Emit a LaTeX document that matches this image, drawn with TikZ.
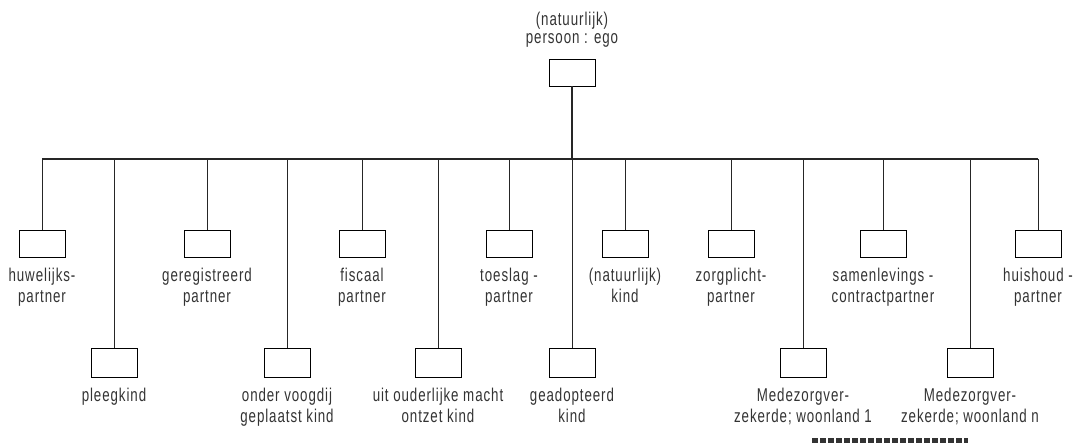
\documentclass[tikz,border=0pt]{standalone}
\usepackage{fontspec}
\setmainfont{Liberation Sans}[FakeStretch=0.72, LetterSpace=5]
\usepackage{tikz}
\usetikzlibrary{positioning}

\tikzset{
  persbox/.style={draw, line width=0.8pt, minimum width=46pt, minimum height=27pt, inner sep=0pt},
  laagbox/.style={persbox, minimum height=29pt},
  lbl/.style={font=\fontsize{18.5}{21}\selectfont, text=black!80, align=center, inner sep=0pt},
  tak/.style={line width=0.8pt, black!85},
}

\begin{document}
\begin{tikzpicture}[x=1pt, y=1pt]

\useasboundingbox (0,0) rectangle (1075,-445);

% Ego
\node[persbox] (ego) at (572,-72.5) {};
\node[lbl, font=\fontsize{18.5}{18}\selectfont, above=11pt of ego] (egolbl) {(natuurlijk)\\persoon : ego};

% Bus
\coordinate (bus) at (0,-159);

% Upper row
\node[persbox] (huwelijk) at (42,-243.5) {};
\node[persbox] (geregistreerd) at (207,-243.5) {};
\node[persbox] (fiscaal) at (362,-243.5) {};
\node[persbox] (toeslag) at (509,-243.5) {};
\node[persbox] (kind) at (625,-243.5) {};
\node[persbox] (zorgplicht) at (731,-243.5) {};
\node[persbox] (samenleving) at (883,-243.5) {};
\node[persbox] (huishoud) at (1038,-243.5) {};

% Lower row
\node[laagbox] (pleeg) at (114,-362.5) {};
\node[laagbox] (voogdij) at (287,-362.5) {};
\node[laagbox] (ontzet) at (438,-362.5) {};
\node[laagbox] (geadopteerd) at (572,-362.5) {};
\node[laagbox] (mede1) at (803,-362.5) {};
\node[laagbox] (meden) at (970,-362.5) {};

% Labels upper row
\node[lbl, below=10pt of huwelijk] (huwelijklbl) {huwelijks-\\partner};
\node[lbl, below=10pt of geregistreerd] (geregistreerdlbl) {geregistreerd\\partner};
\node[lbl, below=10pt of fiscaal] (fiscaallbl) {fiscaal\\partner};
\node[lbl, below=10pt of toeslag] (toeslaglbl) {toeslag -\\partner};
\node[lbl, below=10pt of kind] (kindlbl) {(natuurlijk)\\kind};
\node[lbl, below=10pt of zorgplicht] (zorgplichtlbl) {zorgplicht-\\partner};
\node[lbl, below=10pt of samenleving] (samenlevinglbl) {samenlevings -\\contractpartner};
\node[lbl, below=10pt of huishoud] (huishoudlbl) {huishoud -\\partner};

% Labels lower row
\node[lbl, below=10pt of pleeg] (pleeglbl) {pleegkind};
\node[lbl, below=10pt of voogdij] (voogdijlbl) {onder voogdij\\geplaatst kind};
\node[lbl, below=10pt of ontzet] (ontzetlbl) {uit ouderlijke macht\\ontzet kind};
\node[lbl, below=10pt of geadopteerd] (geadopteerdlbl) {geadopteerd\\kind};
\node[lbl, below=10pt of mede1] (mede1lbl) {Medezorgver-\\zekerde; woonland 1};
\node[lbl, below=10pt of meden] (medenlbl) {Medezorgver-\\zekerde; woonland n};

% Trunk and bus line
\draw[line width=1.6pt, black!85] (ego.south) -- (ego.south |- bus);
\draw[line width=1.4pt, black!85] (huwelijk.north |- bus) -- (huishoud.north |- bus);

% Branches
\draw[tak] (huwelijk.north) -- (huwelijk.north |- bus);
\draw[tak] (pleeg.north) -- (pleeg.north |- bus);
\draw[tak] (geregistreerd.north) -- (geregistreerd.north |- bus);
\draw[tak] (voogdij.north) -- (voogdij.north |- bus);
\draw[tak] (fiscaal.north) -- (fiscaal.north |- bus);
\draw[tak] (ontzet.north) -- (ontzet.north |- bus);
\draw[tak] (toeslag.north) -- (toeslag.north |- bus);
\draw[tak] (geadopteerd.north) -- (geadopteerd.north |- bus);
\draw[tak] (kind.north) -- (kind.north |- bus);
\draw[tak] (zorgplicht.north) -- (zorgplicht.north |- bus);
\draw[tak] (mede1.north) -- (mede1.north |- bus);
\draw[tak] (samenleving.north) -- (samenleving.north |- bus);
\draw[tak] (meden.north) -- (meden.north |- bus);
\draw[tak] (huishoud.north) -- (huishoud.north |- bus);

% Dashed bar at the bottom edge
\draw[line width=5pt, black!80, dash pattern=on 6pt off 2pt] (812,-440.5) -- (968,-440.5);

\end{tikzpicture}
\end{document}
